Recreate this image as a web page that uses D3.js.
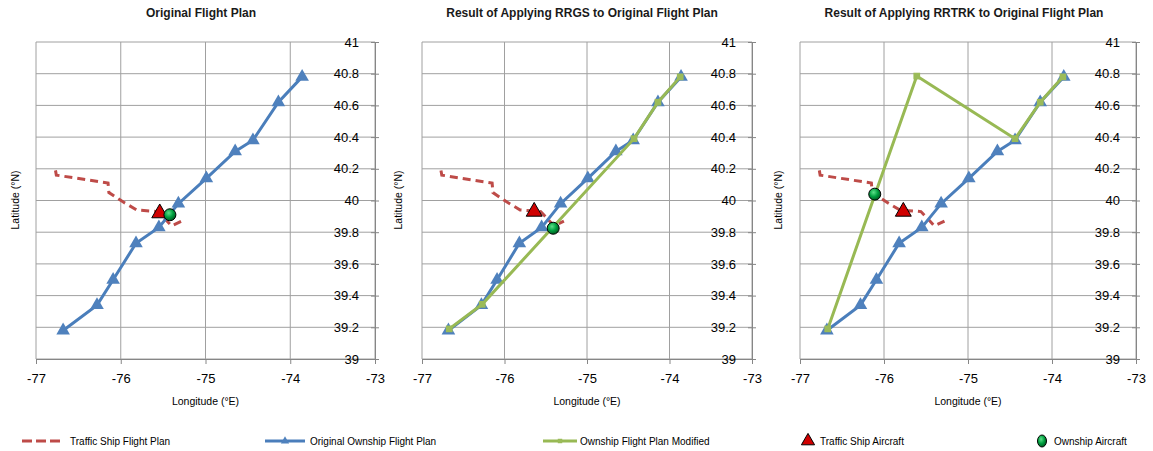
<!DOCTYPE html>
<html>
<head>
<meta charset="utf-8">
<script src="https://cdn.jsdelivr.net/npm/d3@7"></script>
<style>
  body { margin: 0; background: #fff; }
  svg { display: block; font-family: "Liberation Sans", Arial, sans-serif; }
</style>
</head>
<body>
<svg id="chart" width="1153" height="451"></svg>
<script>
// tick labels
var xTicks = [-77, -76, -75, -74, -73]
var xTickLabels = ["-77", "-76", "-75", "-74", "-73"]
var yTicks = [39, 39.2, 39.4, 39.6, 39.8, 40, 40.2, 40.4, 40.6, 40.8, 41]
var yTickLabels = ["39", "39.2", "39.4", "39.6", "39.8", "40", "40.2", "40.4", "40.6", "40.8", "41"]

var panelTitles = ["Original Flight Plan",
  "Result of Applying RRGS to Original Flight Plan",
  "Result of Applying RRTRK to Original Flight Plan"]

// original ownship flight plan
var ownLon = [-76.68, -76.28, -76.09, -75.82, -75.55, -75.32, -74.99, -74.65, -74.44, -74.14, -73.86]
var ownLat = [39.18, 39.34, 39.50, 39.73, 39.83, 39.98, 40.14, 40.31, 40.38, 40.62, 40.78]

// traffic ship flight plan
var trafLon = [-76.77, -76.76, -76.15, -76.14, -75.97, -75.81, -75.56, -75.40, -75.28]
var trafLat = [40.19, 40.16, 40.11, 40.05, 39.99, 39.94, 39.93, 39.84, 39.87]

// modified plans
var rrgsLon = [-76.67, -76.27, -74.43, -74.14, -73.87]
var rrgsLat = [39.19, 39.345, 40.39, 40.62, 40.78]
var rrtrkLon = [-76.67, -75.61, -74.44, -74.14, -73.87]
var rrtrkLat = [39.19, 40.785, 40.39, 40.62, 40.78]

// aircraft positions per panel
var trafAcLon = [-75.54, -75.64, -75.77]
var trafAcLat = [39.92, 39.93, 39.93]
var ownAcLon = [-75.42, -75.41, -76.11]
var ownAcLat = [39.91, 39.825, 40.04]

var legendLabels = ["Traffic Ship Flight Plan", "Original Ownship Flight Plan",
  "Ownship Flight Plan Modified", "Traffic Ship Aircraft", "Ownship Aircraft"]

var blue = "#4a7ebb", red = "#be4b48", green = "#98b954"

var svg = d3.select("#chart")

var defs = svg.append("defs")
var grad = defs.append("radialGradient").attr("id", "ballGrad")
  .attr("cx", "40%").attr("cy", "35%").attr("r", "65%")
grad.append("stop").attr("offset", "0%").attr("stop-color", "#5fe08a")
grad.append("stop").attr("offset", "55%").attr("stop-color", "#00a040")
grad.append("stop").attr("offset", "100%").attr("stop-color", "#005a20")

var panels = [
  {left: 36, right: 375, ytitle: 15, tx: 201},
  {left: 422, right: 752, ytitle: 398, tx: 582},
  {left: 800, right: 1136, ytitle: 778, tx: 964}
]
var plotTop = 42, plotBottom = 359

function zip(a, b) { return a.map(function (d, i) { return [d, b[i]] }) }

var modified = [null, zip(rrgsLon, rrgsLat), zip(rrtrkLon, rrtrkLat)]

panels.forEach(function (p, k) {
  var x = d3.scaleLinear().domain([-77, -73]).range([p.left, p.right])
  var y = d3.scaleLinear().domain([39, 41]).range([plotBottom, plotTop])
  var g = svg.append("g")

  // grid
  g.selectAll(".vg").data(xTicks).enter().append("line")
    .attr("x1", function (d) { return x(d) }).attr("x2", function (d) { return x(d) })
    .attr("y1", plotTop).attr("y2", plotBottom)
    .attr("stroke", "#a0a0a0").attr("stroke-width", 1)
  g.selectAll(".hg").data(yTicks).enter().append("line")
    .attr("x1", p.left).attr("x2", p.right)
    .attr("y1", function (d) { return y(d) }).attr("y2", function (d) { return y(d) })
    .attr("stroke", "#a0a0a0").attr("stroke-width", 1)

  // axes
  var xa = g.append("g").attr("transform", "translate(0," + plotBottom + ")")
    .call(d3.axisBottom(x).tickValues(xTicks).tickSize(5).tickPadding(10)
      .tickFormat(function (d, i) { return xTickLabels[i] }))
  var ya = g.append("g").attr("transform", "translate(" + p.right + ",0)")
    .call(d3.axisLeft(y).tickValues(yTicks).tickSize(4).tickPadding(12)
      .tickFormat(function (d, i) { return yTickLabels[i] }))
  ya.selectAll(".tick line").attr("x1", 4)
  ;[xa, ya].forEach(function (a) {
    a.select(".domain").attr("stroke", "#868686")
    a.selectAll(".tick line").attr("stroke", "#868686")
    a.selectAll("text").attr("fill", "#000").style("font-size", "13px")
      .style("font-family", "'Liberation Sans', Arial, sans-serif")
  })

  var line = d3.line().x(function (d) { return x(d[0]) }).y(function (d) { return y(d[1]) })

  // traffic ship plan
  g.append("path").attr("d", line(zip(trafLon, trafLat)))
    .attr("fill", "none").attr("stroke", red).attr("stroke-width", 3)
    .attr("stroke-dasharray", "8,5")

  // original ownship plan
  var own = zip(ownLon, ownLat)
  g.append("path").attr("d", line(own))
    .attr("fill", "none").attr("stroke", blue).attr("stroke-width", 3)
  g.selectAll(".tri").data(own).enter().append("path")
    .attr("d", d3.symbol().type(d3.symbolTriangle).size(80))
    .attr("transform", function (d) { return "translate(" + x(d[0]) + "," + y(d[1]) + ")" })
    .attr("fill", "#4f81bd")

  // modified plan
  if (modified[k]) {
    g.append("path").attr("d", line(modified[k]))
      .attr("fill", "none").attr("stroke", green).attr("stroke-width", 3)
    g.selectAll(".sq").data(modified[k]).enter().append("path")
      .attr("d", d3.symbol().type(d3.symbolSquare).size(45))
      .attr("transform", function (d) { return "translate(" + x(d[0]) + "," + y(d[1]) + ")" })
      .attr("fill", "#9bbb59")
  }

  // traffic aircraft
  g.append("path")
    .attr("d", d3.symbol().type(d3.symbolTriangle).size(110))
    .attr("transform", "translate(" + x(trafAcLon[k]) + "," + y(trafAcLat[k]) + ")")
    .attr("fill", "#d00000").attr("stroke", "#000").attr("stroke-width", 1)

  // ownship aircraft
  g.append("circle").attr("cx", x(ownAcLon[k])).attr("cy", y(ownAcLat[k])).attr("r", 6)
    .attr("fill", "url(#ballGrad)").attr("stroke", "#000").attr("stroke-width", 1)

  // titles
  g.append("text").attr("x", p.tx).attr("y", 17).attr("text-anchor", "middle")
    .style("font-size", "12px").style("font-weight", "bold").attr("fill", "#1a1a1a")
    .text(panelTitles[k])
  g.append("text").attr("x", x(-75)).attr("y", 405).attr("text-anchor", "middle")
    .style("font-size", "10.5px").text("Longitude (°E)")
  g.append("text").attr("transform", "translate(" + p.ytitle + ",200) rotate(-90)")
    .attr("text-anchor", "middle").attr("dy", "0.35em")
    .style("font-size", "10.5px").text("Latitude (°N)")
})

// legend
var ly = 441
var leg = svg.append("g").style("font-size", "10px")
  .style("font-family", "'Liberation Sans Narrow', 'Liberation Sans', Arial, sans-serif")

leg.append("line").attr("x1", 22).attr("x2", 62).attr("y1", ly).attr("y2", ly)
  .attr("stroke", red).attr("stroke-width", 3).attr("stroke-dasharray", "10,4")
leg.append("text").attr("x", 70).attr("y", ly).attr("dy", "0.35em").text(legendLabels[0])

leg.append("line").attr("x1", 265).attr("x2", 305).attr("y1", ly).attr("y2", ly)
  .attr("stroke", blue).attr("stroke-width", 3)
leg.append("path").attr("d", d3.symbol().type(d3.symbolTriangle).size(30))
  .attr("transform", "translate(285," + ly + ")").attr("fill", "#4f81bd")
leg.append("text").attr("x", 310).attr("y", ly).attr("dy", "0.35em").text(legendLabels[1])

leg.append("line").attr("x1", 543).attr("x2", 577).attr("y1", ly).attr("y2", ly)
  .attr("stroke", green).attr("stroke-width", 3)
leg.append("path").attr("d", d3.symbol().type(d3.symbolSquare).size(20))
  .attr("transform", "translate(560," + ly + ")").attr("fill", "#9bbb59")
leg.append("text").attr("x", 580).attr("y", ly).attr("dy", "0.35em").text(legendLabels[2])

leg.append("path").attr("d", d3.symbol().type(d3.symbolTriangle).size(75))
  .attr("transform", "translate(808," + ly + ")")
  .attr("fill", "#d00000").attr("stroke", "#000").attr("stroke-width", 1)
leg.append("text").attr("x", 820).attr("y", ly).attr("dy", "0.35em").text(legendLabels[3])

leg.append("ellipse").attr("cx", 1042).attr("cy", ly).attr("rx", 4.5).attr("ry", 6)
  .attr("fill", "url(#ballGrad)").attr("stroke", "#000").attr("stroke-width", 1)
leg.append("text").attr("x", 1054).attr("y", ly).attr("dy", "0.35em").text(legendLabels[4])
</script>
</body>
</html>
